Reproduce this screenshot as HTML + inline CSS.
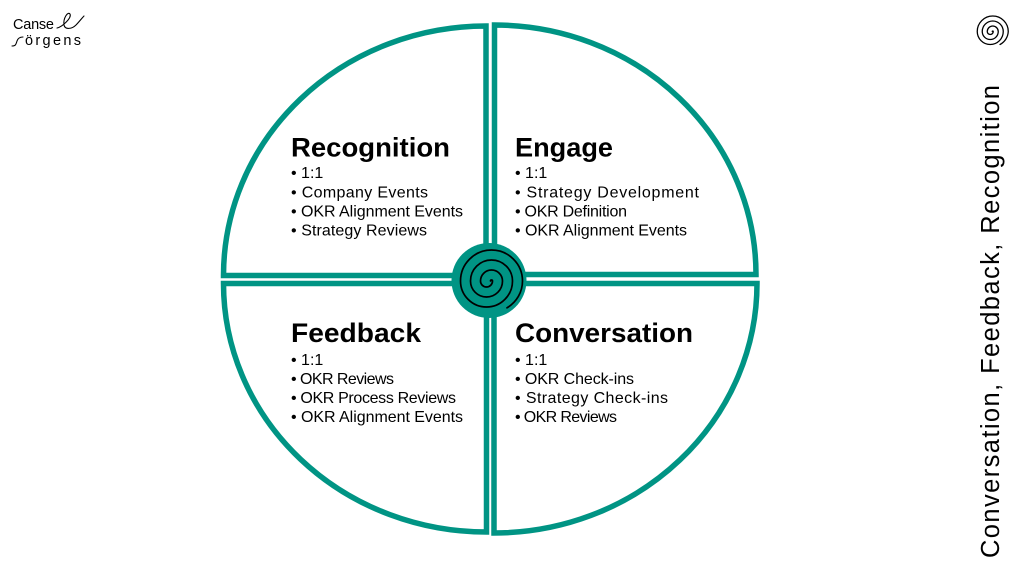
<!DOCTYPE html>
<html>
<head>
<meta charset="utf-8">
<style>
  html,body{margin:0;padding:0;background:#fff;}
  body{width:1023px;height:570px;overflow:hidden;}
  svg{display:block;}
  .t{font-family:"Liberation Sans",Arial,sans-serif;font-weight:bold;font-size:27px;fill:#000;}
  .b{font-family:"Liberation Sans",Arial,sans-serif;font-size:16px;fill:#000;}
  .l{font-family:"Liberation Sans",Arial,sans-serif;font-size:14.5px;fill:#000;}
</style>
</head>
<body>
<svg width="1023" height="570" viewBox="0 0 1023 570" xmlns="http://www.w3.org/2000/svg">
  <!-- Quadrants -->
  <g fill="#fff" stroke="#009484" stroke-width="5.5" stroke-linejoin="miter">
    <path d="M486 275.5 L223.5 275.5 A262.5 249.5 0 0 1 486 26 Z"/>
    <path d="M494.5 274.5 L494.5 25 A261.5 249.5 0 0 1 756 274.5 Z"/>
    <path d="M494 283.5 L757 283.5 A263 249.5 0 0 1 494 533 Z"/>
    <path d="M486.5 283.5 L486.5 532 A263 248.5 0 0 1 223.5 283.5 Z"/>
  </g>

  <!-- Center circle with spiral -->
  <circle cx="489" cy="280.5" r="37.5" fill="#009484"/>
  <path d="M490.5 281 a1 1 0 0 1 2 0 a6 6 0 0 1 -12 0 a11 11 0 0 1 22 0 a16 16 0 0 1 -32 0 a21 21 0 0 1 42 0 a26 26 0 0 1 -52 0 a31 31 0 0 1 62 0 A31 31 0 0 1 507 307.8"
        fill="none" stroke="#000" stroke-width="1.7" stroke-linecap="round"/>

  <!-- Top-right spiral icon -->
  <path d="M992.25 31.5 a0.5 0.5 0 0 1 1 0 a3 3 0 0 1 -6 0 a5.5 5.5 0 0 1 11 0 a8 8 0 0 1 -16 0 a10.5 10.5 0 0 1 21 0 a13 13 0 0 1 -26 0 a15.5 15.5 0 0 1 31 0 A15.5 15.5 0 0 1 1000 44.5"
        fill="none" stroke="#000" stroke-width="1.3" stroke-linecap="round"/>

  <!-- Logo -->
  <text class="l" x="13" y="29" textLength="41" lengthAdjust="spacing">Canse</text>
  <path d="M57 28 C62 27 72 18 70 14 C68 11 63 18 64 25 C65 30 72 29 76 25 C79 22 82 18 84 16" fill="none" stroke="#000" stroke-width="1.1" stroke-linecap="round"/>
  <path d="M12 46 C16 46 16 44 17 41 C18 38 20 37 23 37" fill="none" stroke="#000" stroke-width="1.1" stroke-linecap="round"/>
  <text class="l" x="25" y="45" textLength="56" lengthAdjust="spacing">örgens</text>

  <!-- Recognition -->
  <text class="t" x="291" y="156.5" textLength="159" lengthAdjust="spacingAndGlyphs">Recognition</text>
  <text class="b" x="291" y="178">• 1:1</text>
  <text class="b" x="291" y="197.5" textLength="137" lengthAdjust="spacing">• Company Events</text>
  <text class="b" x="291" y="216.5" textLength="172" lengthAdjust="spacing">• OKR Alignment Events</text>
  <text class="b" x="291" y="235.5" textLength="136" lengthAdjust="spacing">• Strategy Reviews</text>

  <!-- Engage -->
  <text class="t" x="515" y="156.5" textLength="98" lengthAdjust="spacingAndGlyphs">Engage</text>
  <text class="b" x="515" y="178">• 1:1</text>
  <text class="b" x="515" y="197.5" textLength="184" lengthAdjust="spacing">• Strategy Development</text>
  <text class="b" x="515" y="216.5" textLength="112" lengthAdjust="spacing">• OKR Definition</text>
  <text class="b" x="515" y="235.5" textLength="172" lengthAdjust="spacing">• OKR Alignment Events</text>

  <!-- Feedback -->
  <text class="t" x="291" y="342" textLength="130" lengthAdjust="spacingAndGlyphs">Feedback</text>
  <text class="b" x="291" y="365">• 1:1</text>
  <text class="b" x="291" y="384" textLength="103" lengthAdjust="spacing">• OKR Reviews</text>
  <text class="b" x="291" y="403" textLength="165" lengthAdjust="spacing">• OKR Process Reviews</text>
  <text class="b" x="291" y="422" textLength="172" lengthAdjust="spacing">• OKR Alignment Events</text>

  <!-- Conversation -->
  <text class="t" x="515" y="342" textLength="178" lengthAdjust="spacingAndGlyphs">Conversation</text>
  <text class="b" x="515" y="365">• 1:1</text>
  <text class="b" x="515" y="384" textLength="119" lengthAdjust="spacing">• OKR Check-ins</text>
  <text class="b" x="515" y="403" textLength="153" lengthAdjust="spacing">• Strategy Check-ins</text>
  <text class="b" x="515" y="422" textLength="102" lengthAdjust="spacing">• OKR Reviews</text>

  <!-- Vertical caption -->
  <text transform="translate(999,558) rotate(-90)" font-family="Liberation Sans, Arial, sans-serif" font-size="25.5" fill="#000" textLength="473" lengthAdjust="spacing">Conversation, Feedback, Recognition</text>
</svg>
</body>
</html>
